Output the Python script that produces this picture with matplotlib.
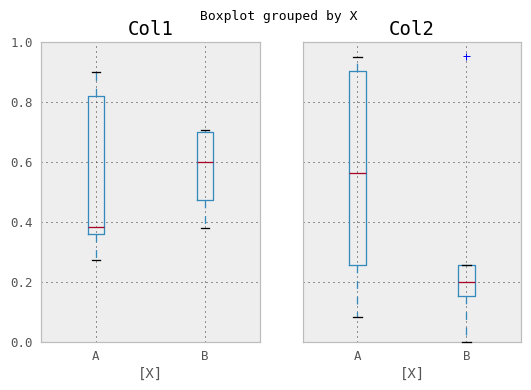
import matplotlib
matplotlib.use("Agg")
import matplotlib.pyplot as plt

# box stats
groups = ["A", "B"]
columns = ["Col1", "Col2"]
med = {"Col1": [0.383, 0.60], "Col2": [0.563, 0.20]}
q1 = {"Col1": [0.36, 0.473], "Col2": [0.257, 0.153]}
q3 = {"Col1": [0.82, 0.70], "Col2": [0.903, 0.257]}
whislo = {"Col1": [0.273, 0.38], "Col2": [0.083, 0.0]}
whishi = {"Col1": [0.90, 0.707], "Col2": [0.95, 0.257]}
fliers = {"Col1": [[], []], "Col2": [[], [0.953]]}

plt.rcParams["font.family"] = "DejaVu Sans Mono"

fig = plt.figure(figsize=(531 / 72, 390 / 72), dpi=72)
ax1 = fig.add_axes([0.0772, 0.123, 0.4124, 0.769])
ax2 = fig.add_axes([0.5706, 0.123, 0.4104, 0.769], sharey=ax1)

for ax, col in zip([ax1, ax2], columns):
    stats = []
    for i, g in enumerate(groups):
        stats.append(dict(label=g, med=med[col][i], q1=q1[col][i], q3=q3[col][i],
                          whislo=whislo[col][i], whishi=whishi[col][i],
                          fliers=fliers[col][i]))
    parts = ax.bxp(stats, widths=0.15,
                   boxprops=dict(color="#348ABD", linewidth=1.3),
                   whiskerprops=dict(color="#348ABD", linestyle=(0, (6, 6)), linewidth=1.3),
                   capprops=dict(color="black", linewidth=1.3),
                   medianprops=dict(color="#A60628", linewidth=1.3),
                   flierprops=dict(marker="+", markeredgecolor="blue", markersize=7,
                                   linestyle="none"))
    for c in parts["caps"]:
        c.set_clip_on(False)
        c.set_zorder(5)
    ax.set_facecolor("#EEEEEE")
    for s in ax.spines.values():
        s.set_color("#BCBCBC")
        s.set_linewidth(1.2)
    ax.grid(True, color="#333333", linestyle=(0, (1, 4)), linewidth=1.0)
    ax.set_axisbelow(True)
    ax.set_title(col, fontsize=19, pad=7)
    ax.set_xlabel("[X]", fontsize=14, color="#555555")
    ax.tick_params(length=0, labelsize=12.5, colors="#555555", pad=8)

ax1.set_ylim(0, 1.0)
ax1.set_yticks([0.0, 0.2, 0.4, 0.6, 0.8, 1.0])
ax2.tick_params(labelleft=False)

fig.suptitle("Boxplot grouped by X", fontsize=13, x=0.525, y=0.975)
fig.savefig("out.png", dpi=72)
